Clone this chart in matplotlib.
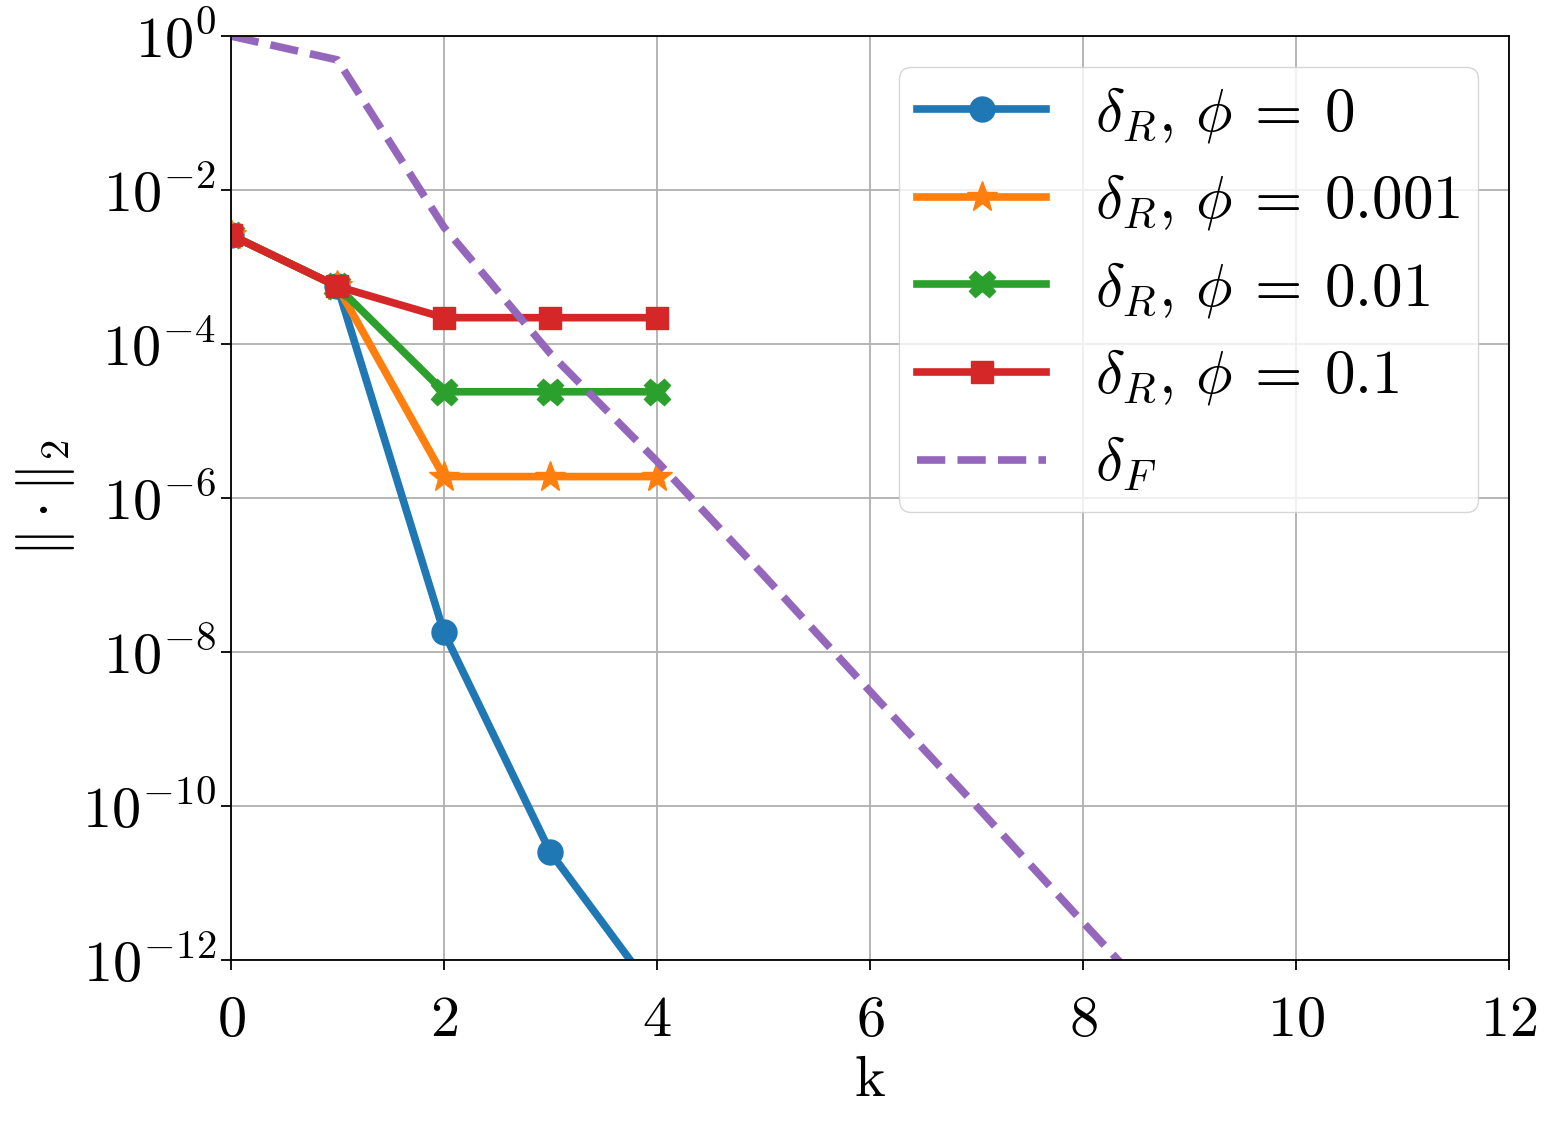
import matplotlib
matplotlib.use("Agg")
import matplotlib.pyplot as plt

plt.rcParams['mathtext.fontset'] = 'cm'
plt.rcParams['font.family'] = 'serif'
plt.rcParams['font.serif'] = ['cmr10']
plt.rcParams['axes.formatter.use_mathtext'] = True

# dati
k = [0, 1, 2, 3, 4]
r_phi0 = [2.6e-3, 5.6e-4, 1.8e-8, 2.5e-11, 3.4e-13]
r_phi0001 = [2.6e-3, 5.6e-4, 1.9e-6, 1.9e-6, 1.9e-6]
r_phi001 = [2.6e-3, 5.6e-4, 2.4e-5, 2.4e-5, 2.4e-5]
r_phi01 = [2.6e-3, 5.6e-4, 2.2e-4, 2.2e-4, 2.2e-4]
kF = [0, 1, 2, 3, 4, 5, 6, 7, 8, 9]
dF = [1.0, 0.49, 3.3e-3, 7.5e-5, 3.0e-6, 1.0e-7, 3.1e-9, 1.0e-10, 3.1e-12, 1.0e-13]

fig = plt.figure(figsize=(15.54, 11.26), dpi=100)
ax = fig.add_axes([0.1486, 0.1474, 0.8224, 0.8206])

lw = 5.5
ax.plot(k, r_phi0, color='tab:blue', marker='o', ms=18, lw=lw, label=r'$\delta_R,\,\phi\:=\:0$')
ax.plot(k, r_phi0001, color='tab:orange', marker='*', ms=23, lw=lw, label=r'$\delta_R,\,\phi\:=\:0.001$')
ax.plot(k, r_phi001, color='tab:green', marker='X', ms=19, lw=lw, label=r'$\delta_R,\,\phi\:=\:0.01$')
ax.plot(k, r_phi01, color='tab:red', marker='s', ms=16, lw=lw, label=r'$\delta_R,\,\phi\:=\:0.1$')
ax.plot(kF, dF, color='tab:purple', ls='--', lw=lw, label=r'$\delta_F$')

ax.set_yscale('log')
ax.set_xlim(0, 12)
ax.set_ylim(1e-12, 1e0)
ax.set_yticks([1e0, 1e-2, 1e-4, 1e-6, 1e-8, 1e-10, 1e-12])
ax.minorticks_off()
ax.set_xticks([0, 2, 4, 6, 8, 10, 12])
ax.tick_params(labelsize=42, length=7, width=1.3)
ax.tick_params(axis='x', pad=19)
for s in ax.spines.values():
    s.set_linewidth(1.3)
ax.grid(True, lw=1.3, color='#b0b0b0')
ax.set_xlabel('k', fontsize=42, labelpad=6)
ax.set_ylabel(r'$\|\cdot\|_2$', fontsize=42)
ax.legend(loc='upper right', fontsize=44, handlelength=2.1, borderpad=0.3,
          labelspacing=0.45)

fig.savefig('out.png', dpi=100)
